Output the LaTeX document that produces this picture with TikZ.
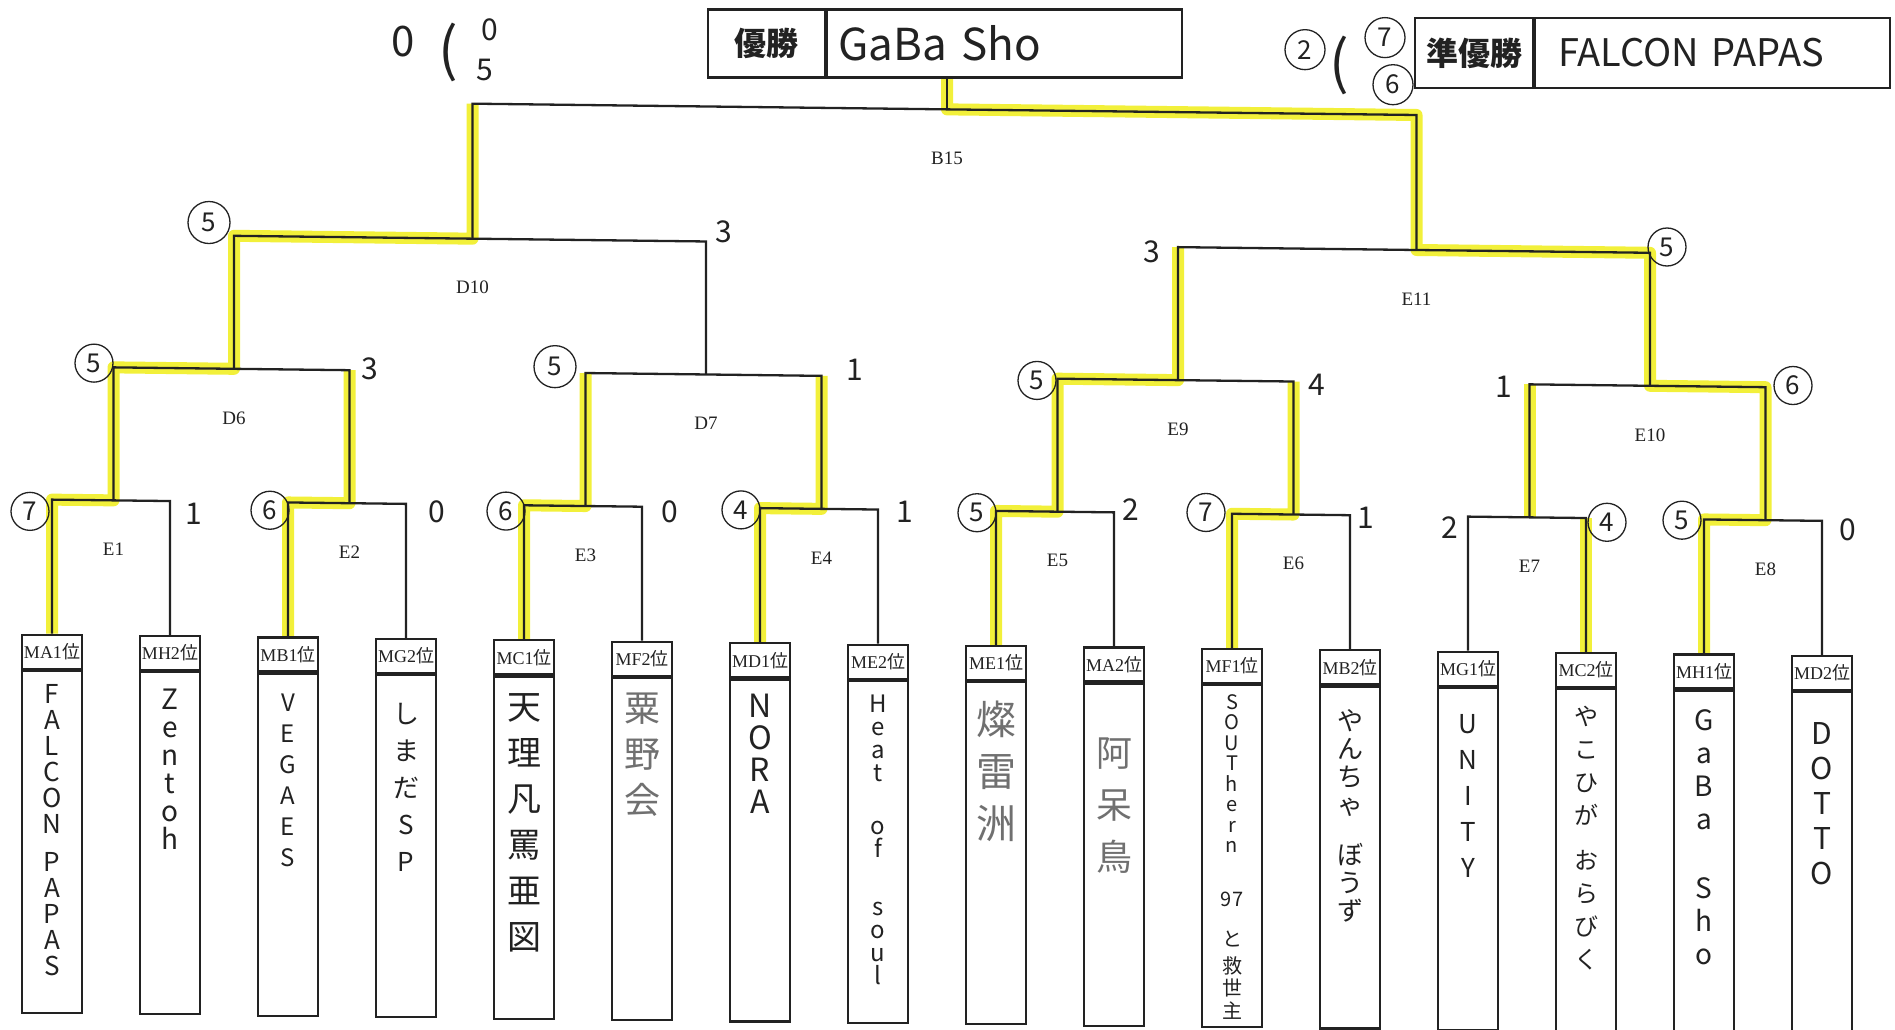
\documentclass[tikz,border=0pt]{standalone}
\usepackage{fontspec}
\setmainfont{Liberation Serif}
\newfontfamily\cjk{Noto Sans CJK JP}
\usepackage{tikz}
\usetikzlibrary{positioning,calc,backgrounds}
\definecolor{Marker}{HTML}{F2F03A}
\definecolor{Ink}{HTML}{222222}
\definecolor{Pencil}{HTML}{707070}

% one bout: name, left feeder, right feeder, rise
\newcommand\bout[4]{%
  \draw[bracket] (#2) -- ++(0,-#4) coordinate (#1l)
    -- ($(#3)+(0,-#4)$) coordinate (#1r) -- (#3);
  \coordinate (#1) at ($(#1l)!.5!(#1r)+(2.5,0)$);
  \node[boutname] (#1t) at ($(#1)+(0,49)$) {#1};}

% one team: id, x, slot, gap, hand style, name
\newcommand\team[6]{%
  \node[head] (#1) at (#2,633) {#3};
  \node[body,below=0pt of #1] (#1b) {};
  \node[hand,#5,below=#4 of #1] (#1n) {#6};}

\begin{document}
\begin{tikzpicture}[x={(1pt,-0.012pt)},y={(0pt,-1pt)},
  bracket/.style={draw=Ink,line width=2.3pt},
  marker/.style={draw=Marker,line width=12pt,line join=round},
  head/.style={draw=Ink,line width=2.2pt,anchor=north,minimum width=60pt,minimum height=34pt,inner sep=0pt,text=Ink,font=\fontsize{18}{18}\selectfont},
  body/.style={draw=Ink,line width=2.2pt,minimum width=60pt,minimum height=342pt,inner sep=0pt},
  hand/.style={align=center,inner sep=0pt,text=Ink},
  hw/.style 2 args={font=\cjk\fontsize{#1}{#2}\selectfont},
  boutname/.style={text=Ink,font=\fontsize{19}{19}\selectfont},
  won/.style={circle,draw=Ink,line width=1.3pt,minimum size=38pt,inner sep=0pt,text=Ink,font=\cjk\fontsize{26}{26}\selectfont},
  lost/.style={text=Ink,inner sep=0pt,font=\cjk\fontsize{30}{30}\selectfont},
  paren/.style={text=Ink,inner sep=0pt,font=\cjk\fontsize{58}{58}\selectfont},
  cell/.style={draw=Ink,line width=2.2pt,inner sep=0pt,text=Ink}]
\useasboundingbox (0pt,0pt) rectangle (1895pt,-1029pt);

% teams
\team{ma1}{52}{MA1{\cjk 位}}{14pt}{hw={26}{26}}{F\\A\\L\\C\\O\\N\\[12pt]P\\A\\P\\A\\S}
\team{mh2}{170}{MH2{\cjk 位}}{18pt}{hw={28}{28}}{Z\\e\\n\\t\\o\\h}
\team{mb1}{288}{MB1{\cjk 位}}{21pt}{hw={24}{31}}{V\\E\\G\\A\\E\\S}
\team{mg2}{406}{MG2{\cjk 位}}{29pt}{hw={26}{37}}{し\\ま\\だ\\S\\P}
\team{mc1}{524}{MC1{\cjk 位}}{18pt}{hw={34}{46}}{天\\理\\凡\\罵\\亜\\図}
\team{mf2}{642}{MF2{\cjk 位}}{16pt}{hw={36}{46},text=Pencil}{粟\\野\\会}
\team{md1}{760}{MD1{\cjk 位}}{16pt}{hw={32}{32}}{N\\O\\R\\A}
\team{me2}{878}{ME2{\cjk 位}}{15pt}{hw={24}{23}}{H\\e\\a\\t\\[30pt]o\\f\\[35pt]s\\o\\u\\l}
\team{me1}{996}{ME1{\cjk 位}}{20pt}{hw={40}{52},text=Pencil}{燦\\雷\\洲}
\team{ma2}{1114}{MA2{\cjk 位}}{55pt}{hw={36}{52},text=Pencil}{阿\\呆\\鳥}
\team{mf1}{1232}{MF1{\cjk 位}}{10pt}{hw={20}{20.5}}{S\\O\\U\\T\\h\\e\\r\\n\\[33pt]97\\[20pt]と\\[6pt]救\\[2pt]世\\[2pt]主}
\team{mb2}{1350}{MB2{\cjk 位}}{24pt}{hw={26}{28}}{や\\ん\\ち\\ゃ\\[22pt]ぼ\\う\\ず}
\team{mg1}{1468}{MG1{\cjk 位}}{27pt}{hw={26}{36}}{U\\N\\I\\T\\Y}
\team{mc2}{1586}{MC2{\cjk 位}}{18pt}{hw={24}{33}}{や\\こ\\ひ\\が\\[12pt]お\\ら\\び\\く}
\team{mh1}{1704}{MH1{\cjk 位}}{20pt}{hw={28}{33}}{G\\a\\B\\a\\[36pt]S\\h\\o}
\team{md2}{1822}{MD2{\cjk 位}}{31pt}{hw={30}{35}}{D\\O\\T\\T\\O}

% bracket
\bout{E1}{ma1.north}{mh2.north}{134}
\bout{E2}{mb1.north}{mg2.north}{134}
\bout{E3}{mc1.north}{mf2.north}{134}
\bout{E4}{md1.north}{me2.north}{134}
\bout{E5}{me1.north}{ma2.north}{134}
\bout{E6}{mf1.north}{mb2.north}{134}
\bout{E7}{mg1.north}{mc2.north}{134}
\bout{E8}{mh1.north}{md2.north}{134}
\bout{D6}{E1}{E2}{133}
\bout{D7}{E3}{E4}{133}
\bout{E9}{E5}{E6}{133}
\bout{E10}{E7}{E8}{133}
\bout{D10}{D6}{D7}{133}
\bout{E11}{E9}{E10}{133}
\bout{B15}{D10}{E11}{135}

% result boxes
\node[cell,anchor=north west,minimum width=117pt,minimum height=68pt,font=\cjk\bfseries\fontsize{32}{32}\selectfont] (champl) at (707,0) {優勝};
\node[cell,right=0pt of champl,minimum height=68pt,inner xsep=11pt,text width=333pt,align=left,font=\cjk\fontsize{44}{44}\selectfont] (champ) {GaBa Sho};
\node[cell,anchor=north west,minimum width=118pt,minimum height=70pt,font=\cjk\bfseries\fontsize{32}{32}\selectfont] (runl) at (1414,0) {準優勝};
\node[cell,right=0pt of runl,minimum height=70pt,inner xsep=23pt,text width=309pt,align=left,font=\cjk\fontsize{38}{38}\selectfont] (run) {FALCON PAPAS};
\draw[bracket] (B15) -- (B15 |- champ.south);

% scores
\node[won] (sE1l) at (30,511) {7};
\node[lost] (sE1r) at (194,511) {1};
\node[won] (sE2l) at (270,507) {6};
\node[lost] (sE2r) at (437,507) {0};
\node[won] (sE3l) at (506,505) {6};
\node[lost] (sE3r) at (670,504) {0};
\node[won] (sE4l) at (741,501) {4};
\node[lost] (sE4r) at (905,501) {1};
\node[won] (sE5l) at (977,501) {5};
\node[lost] (sE5r) at (1131,496) {2};
\node[won] (sE6l) at (1206,498) {7};
\node[lost] (sE6r) at (1366,501) {1};
\node[lost] (sE7l) at (1450,510) {2};
\node[won] (sE7r) at (1607,503) {4};
\node[won] (sE8l) at (1682,500) {5};
\node[lost] (sE8r) at (1848,508) {0};
\node[won] (sD6l) at (94,362) {5};
\node[lost] (sD6r) at (370,364) {3};
\node[won,minimum size=42pt] (sD7l) at (555,360) {5};
\node[lost] (sD7r) at (855,360) {1};
\node[won] (sE9l) at (1037,368) {5};
\node[lost] (sE9r) at (1317,369) {4};
\node[lost] (sE10l) at (1504,369) {1};
\node[won] (sE10r) at (1793,364) {6};
\node[won,minimum size=42pt] (sD10l) at (209,220) {5};
\node[lost] (sD10r) at (724,223) {3};
\node[lost] (sE11l) at (1152,238) {3};
\node[won] (sE11r) at (1667,227) {5};

% notes by the result boxes
\node[lost,font=\cjk\fontsize{42}{42}\selectfont] (tl0) at (403,37) {0};
\node[paren] (tlp) at (448,47) {(};
\node[lost] (tla) at (490,24) {0};
\node[lost] (tlb) at (485,64) {5};
\node[won,minimum size=40pt] (tr2) at (1305,34) {2};
\node[paren] (trp) at (1339,49) {(};
\node[won,minimum size=40pt] (tr7) at (1385,21) {7};
\node[won,minimum size=40pt] (tr6) at (1393,68) {6};

% highlighted winners
\begin{scope}[on background layer]
  \fill[white] (0pt,0pt) rectangle (1895pt,-1029pt);
  \draw[marker] (ma1.north) -- (E1l) -- (E1) -- (D6l) -- (D6) -- (D10l) -- (D10) -- (B15l);
  \draw[marker] (mb1.north) -- (E2l) -- (E2) -- (D6r);
  \draw[marker] (mc1.north) -- (E3l) -- (E3) -- (D7l);
  \draw[marker] (md1.north) -- (E4l) -- (E4) -- (D7r);
  \draw[marker] (me1.north) -- (E5l) -- (E5) -- (E9l) -- (E9) -- (E11l);
  \draw[marker] (mf1.north) -- (E6l) -- (E6) -- (E9r);
  \draw[marker] (mc2.north) -- (E7r);
  \draw[marker] (E7) -- (E10l);
  \draw[marker] (mh1.north) -- (E8l) -- (E8) -- (E10r) -- (E10) -- (E11r) -- (E11) -- (B15r) -- (B15) -- (B15 |- champ.south);
\end{scope}
\end{tikzpicture}
\end{document}
